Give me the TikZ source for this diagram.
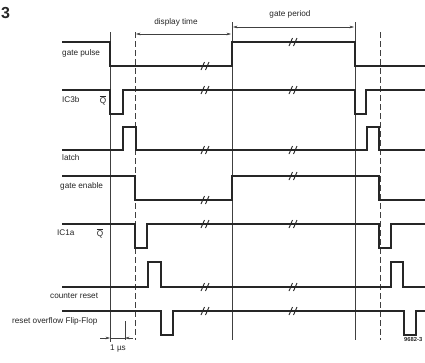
\documentclass[tikz,border=0pt]{standalone}
\usepackage{fontspec}
\setmainfont{Liberation Sans}
\usetikzlibrary{arrows.meta}
\newcommand\qbar{\ensuremath{\overline{\hbox{Q}}}}
\newcommand\brk[2]{\draw[brkst] ({#1-4},{#2+4})--({#1-0.5},{#2-4}) ({#1+0.5},{#2+4})--({#1+4},{#2-4});}
\begin{document}
\begin{tikzpicture}[x=1pt,y=-1pt,
  sig/.style={line width=1.8pt,draw=black!85,line join=miter},
  guide/.style={line width=0.6pt,draw=black!75},
  dguide/.style={line width=0.9pt,draw=black!75,dash pattern=on 6pt off 3pt},
  brkst/.style={line width=0.9pt,draw=black!85},
  lbl/.style={font=\fontsize{8.2}{10}\selectfont,text=black!85,inner sep=0pt,anchor=west},
  dim/.style={line width=0.5pt,draw=black!75},
  tip/.style={-{Stealth[length=4.5pt,width=2.6pt]}}]
\useasboundingbox[fill=white] (0,0) rectangle (425,362);
% guides
\draw[guide] (110,32) -- (110,342);
\draw[guide] (232,22) -- (232,340);
\draw[guide] (355,22) -- (355,340);
\draw[dguide] (135,32) -- (135,340);
\draw[dguide] (380,32) -- (380,340);
% signals
\draw[sig] (62,42)-|(110,66)-|(232,42)-|(355,66)--(425,66);
\draw[sig] (62,90)-|(110,114)-|(123,90)-|(355,114)-|(366,90)--(425,90);
\draw[sig] (62,150)-|(123,127)-|(136,150)-|(367,127)-|(379,150)--(425,150);
\draw[sig] (62,176)-|(135,200)-|(232,176)-|(379,200)--(425,200);
\draw[sig] (62,224)-|(135,248)-|(147,224)-|(379,248)-|(391,224)--(425,224);
\draw[sig] (62,287)-|(148,262)-|(161,287)-|(391,262)-|(403,287)--(425,287);
\draw[sig] (62,311)-|(161,335)-|(173,311)-|(404,335)-|(416,311)--(425,311);
% breaks
\brk{205}{66}\brk{293}{42}
\brk{205}{90}\brk{293}{90}
\brk{205}{150}\brk{293}{150}
\brk{205}{200}\brk{293}{176}
\brk{205}{224}\brk{293}{224}
\brk{205}{287}\brk{293}{287}
\brk{205}{311}\brk{293}{311}
% dimension arrows
\draw[dim,tip] (180,34) -- (136,34);
\draw[dim,tip] (180,34) -- (231,34);
\draw[dim,tip] (290,27) -- (233,27);
\draw[dim,tip] (290,27) -- (354,27);
\draw[dim,tip] (100,338) -- (110,338);
\draw[dim] (110,338) -- (125,338);
\draw[dim,tip] (133,338) -- (125,338);
\draw[dim] (125,321) -- (125,340);
% labels
\node[lbl] (t3) at (1,13) {\fontsize{16}{16}\selectfont\bfseries 3};
\node[lbl,anchor=center] (dt) at (176,22) {display time};
\node[lbl,anchor=center] (gp) at (290,14) {gate period};
\node[lbl] (l1) at (62,53) {gate pulse};
\node[lbl] (l2) at (62,100) {IC3b};
\node[lbl,anchor=center] (q1) at (103,100) {\qbar};
\node[lbl] (l3) at (62,158) {latch};
\node[lbl] (l4) at (60,186) {gate enable};
\node[lbl] (l5) at (57,233) {IC1a};
\node[lbl,anchor=center] (q2) at (100,233) {\qbar};
\node[lbl] (l6) at (50,296) {counter reset};
\node[lbl] (l7) at (12,321) {reset overflow Flip-Flop};
\node[lbl,anchor=center] (us) at (118,349) {1 µs};
\node[lbl,font=\fontsize{5.8}{7}\selectfont\bfseries] (fig) at (404,339) {9682-3};
\end{tikzpicture}
\end{document}
